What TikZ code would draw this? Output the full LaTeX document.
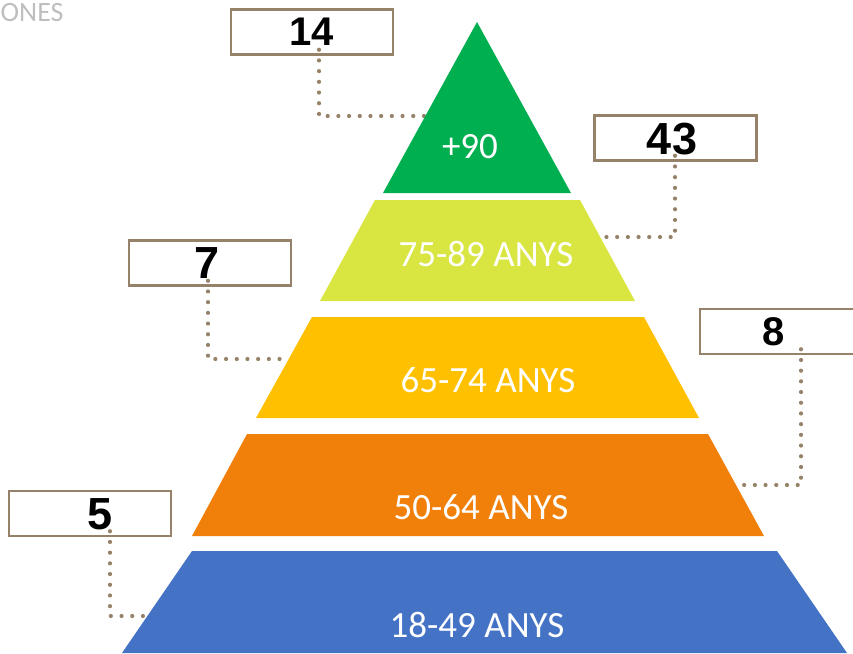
\documentclass[tikz,border=0pt]{standalone}
\usepackage{fontspec}
\setmainfont{Carlito}
\newfontfamily\numfont{Liberation Sans}
\definecolor{cgreen}{RGB}{0,176,80}
\definecolor{clime}{RGB}{217,229,65}
\definecolor{cyellow}{RGB}{255,192,0}
\definecolor{corange}{RGB}{240,128,10}
\definecolor{cblue}{RGB}{68,114,196}
\definecolor{cbrown}{RGB}{150,130,104}
\definecolor{cgraytxt}{RGB}{190,190,190}
\begin{document}
\begin{tikzpicture}[x=1pt,y=-1pt,
  numbox/.style={draw=cbrown, line width=2.5pt, fill=white, minimum width=162pt, minimum height=45pt, inner sep=0pt},
  numtext/.style={font=\numfont\bfseries\fontsize{40}{44}\selectfont, text=black, inner sep=0pt},
  bignum/.style={numtext, font=\numfont\bfseries\fontsize{45}{48}\selectfont},
  layertext/.style={font=\fontsize{37}{44}\selectfont, text=white, inner sep=0pt},
  dotline/.style={draw=cbrown, line width=4.2pt, line cap=round, dash pattern=on 0pt off 10.7pt}]
\useasboundingbox (0,0) rectangle (853,653);

% title fragment
\node[font=\fontsize{28}{32}\selectfont, text=cgraytxt, anchor=base west, inner sep=0pt] (title) at (0.5,21) {ONES};

% boxes
\node[numbox] (b14) at (312,32) {};
\node[numtext] (t14) at (312,32) {14};
\node[numbox] (b43) at (675.5,138) {};
\node[bignum] (t43) at (672,139) {43};
\node[numbox] (b7) at (210,263) {};
\node[bignum] (t7) at (207,263) {7};
\node[numbox] (b8) at (781,331.5) {};
\node[numtext] (t8) at (774,332) {8};
\node[numbox] (b5) at (90,513.5) {};
\node[bignum] (t5) at (100,514) {5};

% connector corners and ends
\coordinate (c14) at (319,116);  \coordinate (e14) at (426,116);
\coordinate (c43) at (675,237);  \coordinate (e43) at (600,237);
\coordinate (c7) at (208,359);   \coordinate (e7) at (289,359);
\coordinate (c8) at (801,485);   \coordinate (e8) at (737,485);
\coordinate (c5) at (110,616);   \coordinate (e5) at (148,616);

\draw[dotline] ([yshift=6pt]b14.south -| c14) -- (c14) -- (e14);
\draw[dotline] ([yshift=6pt]b43.south -| c43) -- (c43) -- (e43);
\draw[dotline] ([yshift=6pt]b7.south -| c7) -- (c7) -- (e7);
\draw[dotline] ([yshift=6pt]b8.south -| c8) -- (c8) -- (e8);
\draw[dotline] ([yshift=6pt]b5.south -| c5) -- (c5) -- (e5);

% pyramid layers
\fill[cgreen] (477,22) -- (571,193) -- (383,193) -- cycle;
\fill[clime] (375,200) -- (580,200) -- (635,301) -- (320,301) -- cycle;
\fill[cyellow] (312,317) -- (644,317) -- (699,418) -- (256,418) -- cycle;
\fill[corange] (247,434) -- (708,434) -- (764,536) -- (192,536) -- cycle;
\fill[cblue] (192,551) -- (777,551) -- (847,653) -- (122,653) -- cycle;

% layer labels
\node[layertext] (l90) at (470,147) {+90};
\node[layertext] (l75) at (486,254) {75-89 ANYS};
\node[layertext] (l65) at (488,380) {65-74 ANYS};
\node[layertext] (l50) at (481,507) {50-64 ANYS};
\node[layertext] (l18) at (477,625) {18-49 ANYS};
\end{tikzpicture}
\end{document}
